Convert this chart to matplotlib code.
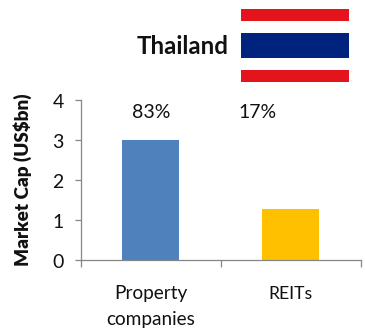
import matplotlib
matplotlib.use("Agg")
import matplotlib.pyplot as plt
from matplotlib.patches import Rectangle
from matplotlib.transforms import ScaledTranslation

categories = ["Property", "companies"]
category_two = "REITs"
market_cap = [3.0, 1.26]
shares = ["83%", "17%"]
bar_colors = ["#4F81BD", "#FFC000"]
y_ticks = [0, 1, 2, 3, 4]

W, H = 365, 331
plt.rcParams["font.family"] = ["Lato", "DejaVu Sans"]

fig = plt.figure(figsize=(W / 100, H / 100), dpi=100)
ax = fig.add_axes([80.5 / W, 1 - 259.5 / H, 280 / W, 160 / H])

ax.bar([0, 1], market_cap, width=0.41, color=bar_colors)
ax.set_xlim(-0.5, 1.5)
ax.set_ylim(0, 4)

for s in ["top", "right"]:
    ax.spines[s].set_visible(False)
for s in ["left", "bottom"]:
    ax.spines[s].set_color("#868686")
    ax.spines[s].set_linewidth(0.9)

ax.set_yticks(y_ticks)
ax.set_yticklabels(y_ticks, fontsize=14, color="#111111")
ax.tick_params(axis="y", length=4, width=0.9, color="#868686", pad=8)
# tick numbers hang slightly below their ticks
shift = ScaledTranslation(0, -1.5 / 100, fig.dpi_scale_trans)
for lab in ax.get_yticklabels():
    lab.set_transform(lab.get_transform() + shift)

# ticks sit between the categories, labels are centred under the bars
ax.set_xticks([-0.5, 0.5, 1.5])
ax.set_xticklabels([])
ax.tick_params(axis="x", length=5, width=0.9, color="#868686")
ax.annotate(categories[0], (0, 0), xytext=(0, -24.5), textcoords="offset points",
            ha="center", va="center", fontsize=13.7, color="#111111")
ax.annotate(categories[1], (0, 0), xytext=(0, -43.5), textcoords="offset points",
            ha="center", va="center", fontsize=13.7, color="#111111")
ax.annotate(category_two, (1, 0), xytext=(0, -24.5), textcoords="offset points",
            ha="center", va="center", fontsize=12.6, color="#111111")

ax.set_ylabel("Market Cap (US$bn)", fontsize=13.6, fontweight="heavy", color="#111111")
ax.yaxis.set_label_coords(-0.174, 0.5)

fig.text(151.5 / W, 1 - 113 / H, shares[0], ha="center", va="center", fontsize=14, color="#111111")
fig.text(258 / W, 1 - 113 / H, shares[1], ha="center", va="center", fontsize=14, color="#111111")
fig.text(183 / W, 1 - 47 / H, "Thailand", ha="center", va="center",
         fontsize=17.3, fontweight="bold", color="#111111")

# flag stripes, top to bottom
flag = fig.add_axes([241 / W, 1 - 82 / H, 108 / W, 73 / H])
flag.set_xlim(0, 1)
flag.set_ylim(73, 0)
flag.axis("off")
for y0, h, col in [(0, 12, "#E3141B"), (12, 12, "white"), (24, 25, "#00247D"),
                   (49, 12, "white"), (61, 12, "#E3141B")]:
    flag.add_patch(Rectangle((0, y0), 1, h, color=col, lw=0))

fig.savefig("out.png", dpi=100)
